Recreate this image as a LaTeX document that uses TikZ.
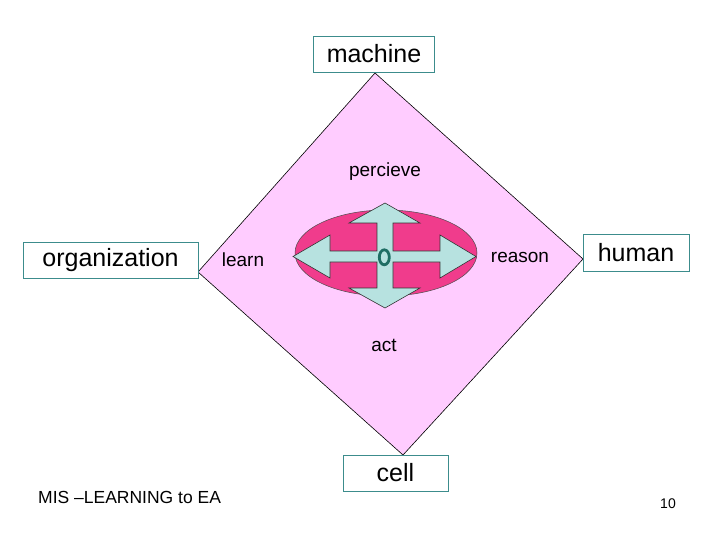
\documentclass[tikz,border=0pt]{standalone}
\usepackage{fontspec}
\setmainfont{Liberation Sans}
\definecolor{diafill}{RGB}{255,204,255}
\definecolor{ellfill}{RGB}{240,60,140}
\definecolor{arrfill}{RGB}{183,226,224}
\definecolor{boxline}{RGB}{60,140,140}
\definecolor{ringcol}{RGB}{30,110,100}
\tikzset{
  labelbox/.style={draw=boxline, line width=0.9pt, fill=white, inner sep=0pt, minimum height=36pt, font=\fontsize{25}{27}\selectfont},
  smalltext/.style={inner sep=0pt, font=\fontsize{19}{21}\selectfont},
}
\begin{document}
\begin{tikzpicture}[x=1pt,y=-1pt]
\useasboundingbox (0,0) rectangle (720,540);
% diamond corners
\coordinate (dtop) at (375,73);
\coordinate (dright) at (583,259);
\coordinate (dbot) at (403,455);
\coordinate (dleft) at (198,272);
\filldraw[fill=diafill, draw=black, line width=0.6pt] (dtop) -- (dright) -- (dbot) -- (dleft) -- cycle;
% boxes
\node[labelbox, minimum width=121pt] (machine) at (374,54) {machine};
\node[labelbox, minimum width=175pt] (org) at (110.5,260) {organization};
\node[labelbox, minimum width=106pt, minimum height=37pt] (human) at (636,252.5) {human};
\node[labelbox, minimum width=105pt] (cell) at (395.5,473) {cell};
% labels
\node[smalltext] (percieve) at (385,172) {percieve};
\node[smalltext] (learn) at (243,260) {learn};
\node[smalltext] (reason) at (520,257) {reason};
\node[smalltext] (act) at (384,345) {act};
% ellipse
\filldraw[fill=ellfill, draw=black!70, line width=0.5pt] (386,253) ellipse [x radius=91, y radius=43];
% four-way arrow
\filldraw[fill=arrfill, draw=black!80, line width=0.6pt]
 (293,256.5) -- (330,235) -- (330,251) -- (377,251) -- (377,223) -- (349,223)
 -- (385,203) -- (420,223) -- (393,223) -- (393,251) -- (440,251) -- (440,235)
 -- (476,256.5) -- (440,278) -- (440,262) -- (393,262) -- (393,288) -- (420,288)
 -- (385,308) -- (349,288) -- (377,288) -- (377,262) -- (330,262) -- (330,278) -- cycle;
% ring
\draw[ringcol, line width=2.8pt] (384.3,257.3) ellipse [x radius=5, y radius=7.5];
% footer
\node[inner sep=0pt, anchor=west, font=\fontsize{17.5}{19}\selectfont] (footer) at (38,497) {MIS –LEARNING to EA};
\node[inner sep=0pt, font=\fontsize{14}{16}\selectfont] (pagenum) at (668,504) {10};
\end{tikzpicture}
\end{document}
